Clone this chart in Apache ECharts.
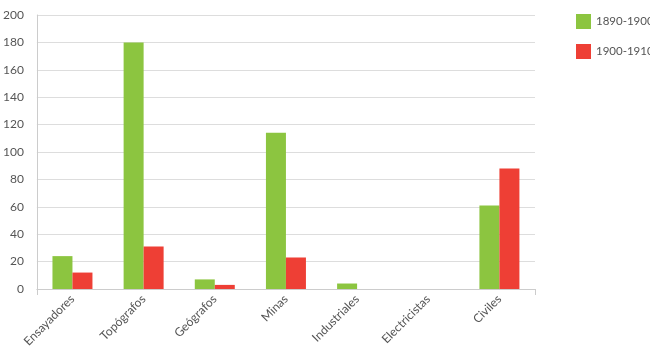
<!DOCTYPE html>
<html><head><meta charset="utf-8">
<script src="https://cdn.jsdelivr.net/npm/echarts@6/dist/echarts.min.js"></script>
<style>html,body{margin:0;padding:0;background:#fff}#c{width:650px;height:353px}</style>
</head><body><div id="c"></div>
<script>
const categories = ['Ensayadores','Topógrafos','Geógrafos','Minas','Industriales','Electricistas','Civiles'];
const s1890 = [24,180,7,114,4,0,61];
const s1900 = [12,31,3,23,0,0,88];
const seriesNames = ['1890-1900','1900-1910'];
const yTicks = {min:0, max:200, interval:20};

const chart = echarts.init(document.getElementById('c'));
const font = 'Lato';
chart.setOption({
  animation:false,
  grid:{left:33,right:115,top:15,bottom:64,containLabel:false},
  legend:{orient:'vertical',left:576,top:14,padding:0,itemWidth:15,itemHeight:15,itemGap:15,icon:'rect',
    textStyle:{fontFamily:font,fontSize:11.5,color:'#555',overflow:'none'},data:seriesNames},
  xAxis:{type:'category',data:categories,
    axisLine:{lineStyle:{color:'#ccc'}},
    axisTick:{show:true,length:6,lineStyle:{color:'#ccc'},interval:function(i){return i===0||i===categories.length;}},
    axisLabel:{rotate:45,interval:0,margin:8,fontFamily:font,fontSize:12,color:'#555'}},
  yAxis:{type:'value',min:yTicks.min,max:yTicks.max,interval:yTicks.interval,
    axisLine:{show:true,lineStyle:{color:'#ccc'}},axisTick:{show:false},
    splitLine:{lineStyle:{color:'#ddd'}},
    axisLabel:{margin:13,fontFamily:font,fontSize:12,color:'#555'}},
  series:[
    {name:seriesNames[0],type:'bar',data:s1890,barWidth:20,barGap:'0%',itemStyle:{color:'#8cc540'}},
    {name:seriesNames[1],type:'bar',data:s1900,barWidth:20,barGap:'0%',itemStyle:{color:'#ee3f35'}}
  ]
});
</script></body></html>
